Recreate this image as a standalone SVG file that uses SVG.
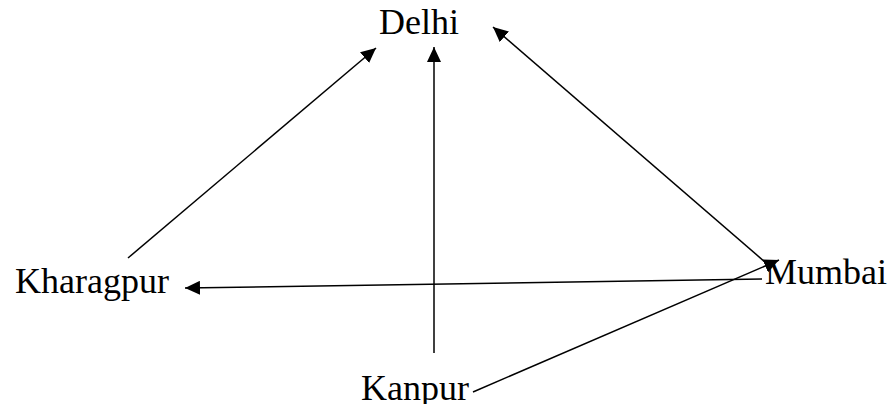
<svg xmlns="http://www.w3.org/2000/svg" width="894" height="404" viewBox="0 0 894 404">
<style>
text{font-family:"Liberation Serif","Times New Roman",serif;font-size:36px;fill:#000}
.c line{stroke:#000;stroke-width:1.5;fill:none;marker-end:url(#ah)}
</style>
<defs>
<marker id="ah" markerUnits="userSpaceOnUse" markerWidth="16" markerHeight="14" refX="15" refY="7" orient="auto">
<path d="M0,0 L15,7 L0,14 Z" fill="#000"/>
</marker>
</defs>
<rect width="894" height="404" fill="#fff"/>
<g id="delhi"><text x="379" y="34">Delhi</text></g>
<g id="kharagpur"><text x="15" y="293">Kharagpur</text></g>
<g id="mumbai"><text x="765" y="284">Mumbai</text></g>
<g id="kanpur"><text x="361" y="400">Kanpur</text></g>
<g class="c" id="connectors">
<line x1="128" y1="258" x2="376" y2="48"/>
<line x1="434" y1="353" x2="434" y2="47"/>
<line x1="765" y1="262" x2="493" y2="27"/>
<line x1="762" y1="279" x2="185" y2="288"/>
<line x1="473" y1="392" x2="779" y2="260"/>
</g>
</svg>
